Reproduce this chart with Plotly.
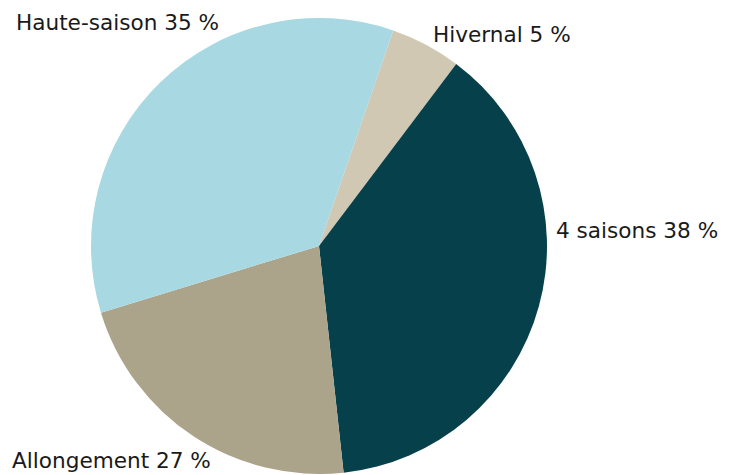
import plotly.graph_objects as go

labels = ["Hivernal", "4 saisons", "Allongement", "Haute-saison"]
values = [5, 38, 22, 35]
label_text = ["Hivernal 5 %", "4 saisons 38 %", "Allongement 27 %", "Haute-saison 35 %"]
colors = ["#d0c8b2", "#06404a", "#aba38a", "#a8d8e2"]

W, H = 738, 475
OFF = 8  # page body margin offset in px

# label anchor positions (left edge, vertical middle) in screen px
label_pos = [(432, 34), (555, 230), (11, 460), (15, 22)]

fig = go.Figure(go.Pie(
    labels=labels,
    values=values,
    textinfo="none",
    automargin=False,
    sort=False,
    direction="clockwise",
    rotation=19,
    marker=dict(colors=colors, line=dict(width=0)),
    showlegend=False,
    hoverinfo="label+value",
    domain=dict(x=[(91 - OFF) / W, (547 - OFF) / W],
                y=[(H - 474 + OFF) / H, (H - 18 + OFF) / H]),
))

for txt, (px, py) in zip(label_text, label_pos):
    fig.add_annotation(
        text=txt,
        xref="paper", yref="paper",
        x=(px - OFF) / W, y=1 - (py - OFF) / H,
        xanchor="left", yanchor="middle",
        showarrow=False,
        borderpad=0,
        font=dict(family="DejaVu Sans", size=21.6, color="#1a1a1a"),
    )

fig.update_layout(
    width=W, height=H,
    margin=dict(l=0, r=0, t=0, b=0),
    paper_bgcolor="white",
    plot_bgcolor="white",
)
fig.write_html("out.html")
